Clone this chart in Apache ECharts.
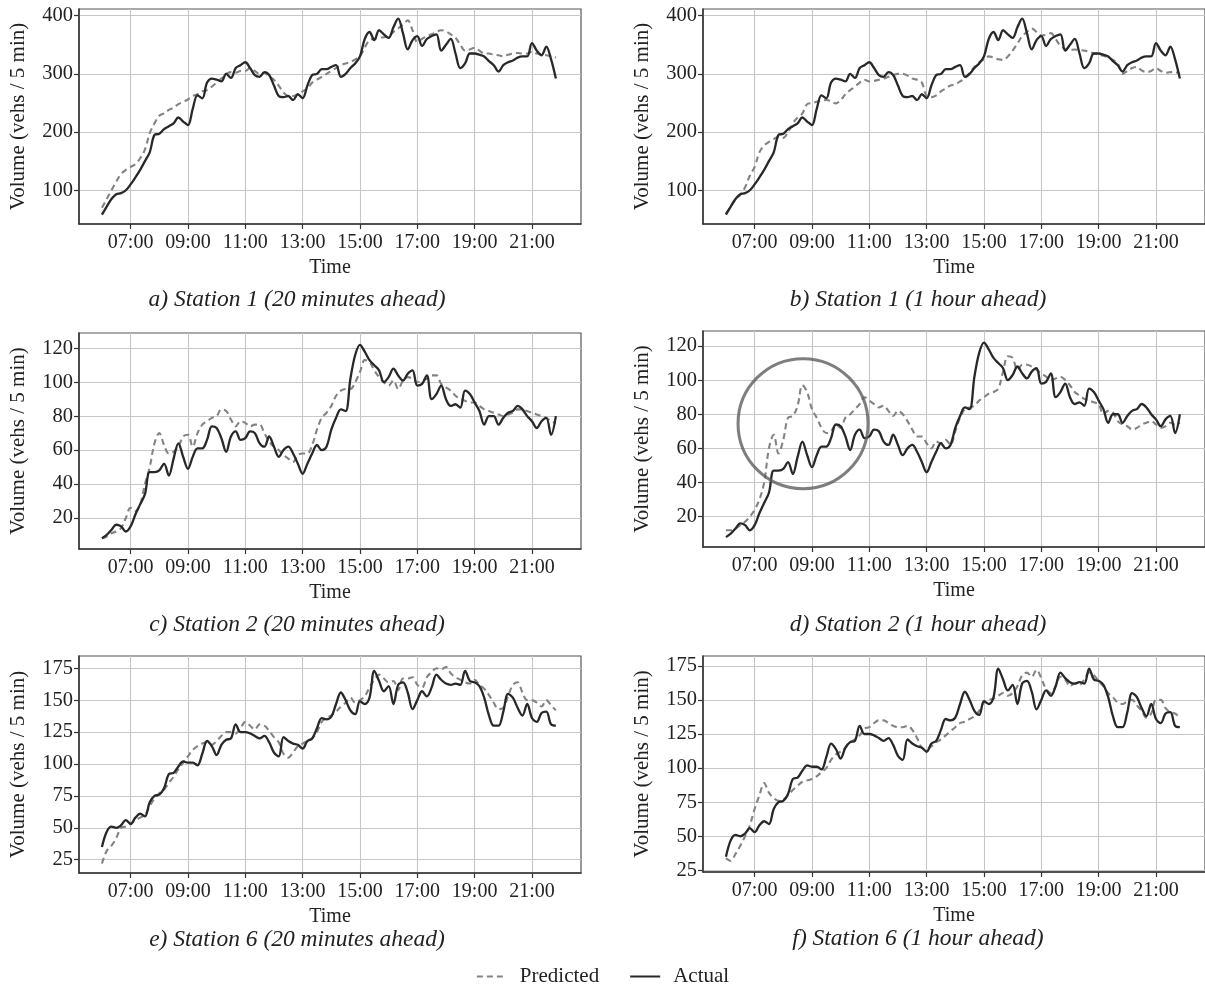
<!DOCTYPE html>
<html>
<head>
<meta charset="utf-8">
<script src="https://cdn.jsdelivr.net/npm/echarts@6/dist/echarts.min.js"></script>
<style>
html,body{margin:0;padding:0;background:#fff;}
#chart{width:1205px;height:985px;}
</style>
</head>
<body>
<div id="chart"></div>
<script>
// time of day in hours, one sample every 10 minutes from 06:00 to 21:50
const times = Array.from({length: 96}, (_, i) => 6 + i / 6);
const xTicks = [7, 9, 11, 13, 15, 17, 19, 21];

// Station 1
const actualS1 = [
  58, 72, 85, 93, 95, 100, 110, 122, 135, 150, 165, 195,
  197, 205, 210, 215, 225, 218, 212, 240, 263, 258, 285, 292,
  290, 287, 300, 293, 310, 315, 320, 310, 298, 295, 303, 298,
  280, 262, 260, 262, 255, 265, 258, 280, 298, 300, 308, 308,
  312, 315, 295, 300, 310, 318, 330, 360, 372, 358, 375, 368,
  362, 380, 395, 370, 342, 358, 365, 348, 360, 365, 368, 340,
  350, 360, 335, 310, 318, 335, 335, 333, 330, 322, 315, 304,
  315, 320, 323, 328, 330, 330, 353, 340, 332, 347, 325, 292
];
const predS1_20min = [
  70, 85, 100, 115, 128, 135, 140, 145, 155, 170, 198, 215,
  228, 232, 238, 242, 248, 252, 256, 262, 265, 270, 272, 278,
  285, 292, 300, 303, 302, 305, 305, 310, 305, 300, 302, 295,
  290, 280, 268, 262, 262, 265, 270, 275, 285, 290, 295, 300,
  305, 310, 315, 318, 320, 325, 330, 345, 358, 360, 362, 363,
  365, 372, 378, 385, 392, 375, 355, 360, 365, 368, 372, 375,
  373, 368, 362, 350, 340, 342, 345, 340, 335, 335, 333, 332,
  330, 333, 335, 336, 335, 335, 338, 335, 333, 332, 330, 328
];
const predS1_1h = [
  60, 72, 84, 92, 105, 125, 140, 165, 177, 183, 188, 192,
  190, 200, 215, 225, 232, 248, 250, 252, 254, 255, 253, 249,
  255, 265, 272, 278, 285, 290, 287, 288, 290, 292, 295, 298,
  300, 300, 297, 292, 290, 285, 262, 260, 263, 270, 275, 280,
  282, 287, 292, 302, 312, 320, 325, 330, 328, 325, 324, 330,
  340, 352, 365, 372, 378, 372, 366, 367, 370, 360, 348, 343,
  341, 342, 341, 340, 338, 335, 333, 331, 328, 324, 318, 300,
  305, 310, 312, 306, 303, 305, 310, 305, 302, 303, 303, 300
];

// Station 2
const actualS2 = [
  8, 10, 13, 16, 15, 12, 15, 22, 28, 34, 47, 47,
  48, 52, 45, 55, 64, 56, 49, 56, 61, 61, 66, 74,
  73, 67, 59, 68, 71, 66, 67, 71, 70, 64, 62, 68,
  62, 56, 60, 62, 58, 52, 46, 52, 58, 63, 60, 62,
  72, 79, 84, 83, 102, 116, 122, 118, 113, 110, 107, 100,
  103, 108, 104, 101, 105, 107, 98, 99, 104, 90, 93, 98,
  90, 86, 87, 85, 95, 93, 88, 83, 75, 80, 80, 75,
  79, 82, 83, 86, 84, 80, 77, 73, 77, 79, 69, 80
];
const predS2_20min = [
  8, 9, 11, 12, 14, 20, 26, 24, 28, 40, 50, 64,
  70, 63, 58, 59, 62, 68, 69, 62, 70, 75, 77, 79,
  80, 84, 83, 78, 74, 77, 76, 74, 75, 75, 70, 65,
  62, 60, 57, 55, 53, 57, 58, 58, 63, 72, 79, 82,
  86, 92, 95, 96, 96, 100, 106, 113, 112, 107, 103, 100,
  98, 101, 96, 101, 103, 102, 100, 101, 102, 104, 104, 99,
  97, 95, 92, 90, 89, 88, 88, 86, 84, 83, 82, 81,
  80, 81, 82, 84, 84, 83, 82, 81, 80, 79, 77, 76
];
const predS2_1h = [
  12, 12, 13, 15, 17, 20, 24, 30, 40, 60, 68, 57,
  65, 78, 79, 85, 97, 93, 83, 78, 72, 69, 70, 74,
  72, 78, 80, 83, 86, 90, 88, 86, 84, 85, 82, 79,
  82, 80, 76, 71, 67, 67, 63, 60, 64, 63, 65, 62,
  70, 78, 83, 84, 85, 88, 90, 92, 93, 95, 105, 114,
  113, 106, 109, 109, 108, 106, 104, 102, 100, 101, 102, 100,
  97, 93, 91, 89, 88, 87, 86, 80, 82, 81, 76, 74,
  73, 71, 72, 74, 75, 76, 74, 72, 73, 75, 74, 75
];
// highlighted region in panel d (time in hours, volume)
const highlightPoint = [8.69, 74.5];

// Station 6
const actualS6 = [
  35, 47, 51, 50, 52, 56, 53, 58, 61, 59, 70, 75,
  76, 81, 92, 93, 98, 102, 101, 101, 99, 108, 118, 114,
  107, 115, 119, 120, 131, 125, 125, 124, 122, 120, 122, 117,
  109, 106, 121, 118, 116, 115, 112, 118, 120, 128, 136, 135,
  137, 147, 156, 150, 142, 139, 149, 147, 152, 173, 165, 157,
  161, 147, 162, 164, 156, 143, 150, 157, 153, 160, 170, 166,
  163, 162, 163, 162, 173, 165, 164, 161, 152, 138, 130, 130,
  141, 155, 152, 144, 138, 147, 136, 133, 140, 141, 131, 130
];
const predS6_20min = [
  22, 32, 36, 42, 50, 51, 53, 56, 58, 60, 67, 73,
  77, 80, 85, 90, 96, 101, 106, 111, 114, 116, 117, 115,
  118, 122, 125, 125, 124, 128, 133, 130, 127, 131, 130, 126,
  121, 117, 108, 105, 109, 114, 116, 118, 120, 125, 133, 136,
  138, 141, 145, 148, 152, 148, 150, 153, 160, 166, 170, 167,
  164, 165, 158, 167, 167, 168, 162, 160, 168, 172, 175, 174,
  176, 171, 168, 166, 164, 163, 166, 162, 159, 154, 148, 143,
  144, 153, 162, 164, 156, 150, 150, 148, 145, 150, 146, 142
];
const predS6_1h = [
  34, 32, 37, 43, 50, 58, 70, 80, 89, 82, 78, 76,
  77, 80, 84, 87, 90, 91, 92, 94, 97, 100, 106, 110,
  112, 115, 119, 121, 124, 129, 130, 133, 135, 135, 133, 131,
  130, 130, 131, 128, 122, 115, 114, 116, 119, 121, 124, 127,
  130, 133, 134, 136, 138, 142, 148, 150, 151, 153, 155, 153,
  155, 160, 168, 170, 167, 172, 166, 158, 155, 160, 167, 165,
  160, 162, 161, 165, 170, 168, 164, 160, 155, 152, 148, 147,
  149, 150, 146, 142, 137, 140, 150, 150, 144, 141, 140, 137
];

const yTicksS1 = [100, 200, 300, 400];
const yTicksS2 = [20, 40, 60, 80, 100, 120];
const yTicksS6 = [25, 50, 75, 100, 125, 150, 175];

const captions = [
  'a) Station 1 (20 minutes ahead)', 'b) Station 1 (1 hour ahead)',
  'c) Station 2 (20 minutes ahead)', 'd) Station 2 (1 hour ahead)',
  'e) Station 6 (20 minutes ahead)', 'f) Station 6 (1 hour ahead)'
];

const FONT = '"Liberation Serif","Times New Roman",Times,serif';
const TXT = '#222';

const panels = [
  {grid:{left:79, top:9, width:502, height:215}, y:[42, 411.5], ticks:yTicksS1, actual:actualS1, pred:predS1_20min, cx:297, cy:300},
  {grid:{left:703, top:9, width:504, height:215}, y:[42, 411.5], ticks:yTicksS1, actual:actualS1, pred:predS1_1h, cx:918, cy:300},
  {grid:{left:79, top:333, width:502, height:216}, y:[1.7, 129], ticks:yTicksS2, actual:actualS2, pred:predS2_20min, cx:297, cy:625},
  {grid:{left:703, top:331, width:504, height:216}, y:[2.2, 128.8], ticks:yTicksS2, actual:actualS2, pred:predS2_1h, cx:918, cy:625},
  {grid:{left:79, top:656, width:502, height:217}, y:[14.6, 184.6], ticks:yTicksS6, actual:actualS6, pred:predS6_20min, cx:297, cy:940},
  {grid:{left:703, top:656, width:504, height:216}, y:[23.8, 182.2], ticks:yTicksS6, actual:actualS6, pred:predS6_1h, cx:918, cy:939}
];

const grids = [], xAxes = [], yAxes = [], series = [], graphics = [];
const fmtTime = v => (v < 10 ? '0' : '') + v + ':00';

panels.forEach((p, i) => {
  grids.push(Object.assign({show:true, borderColor:'#555', borderWidth:1.2, backgroundColor:'#fff', containLabel:false}, p.grid));
  xAxes.push({
    type:'value', gridIndex:i, min:5.2, max:22.71,
    axisLine:{show:true, onZero:false, lineStyle:{color:'#333', width:1.5}},
    axisTick:{show:true, length:5, customValues:xTicks, lineStyle:{color:'#333', width:1.2}},
    axisLabel:{customValues:xTicks, formatter:fmtTime, fontFamily:FONT, fontSize:20, color:TXT, margin:9},
    splitLine:{show:true, lineStyle:{color:'#c6c6c6', width:1.1}},
    name:'Time', nameLocation:'middle', nameGap:34,
    nameTextStyle:{fontFamily:FONT, fontSize:20, color:TXT}
  });
  yAxes.push({
    type:'value', gridIndex:i, min:p.y[0], max:p.y[1],
    axisLine:{show:true, onZero:false, lineStyle:{color:'#333', width:1.5}},
    axisTick:{show:true, length:5, customValues:p.ticks, lineStyle:{color:'#333', width:1.2}},
    axisLabel:{customValues:p.ticks, fontFamily:FONT, fontSize:20.5, color:TXT, margin:6},
    splitLine:{show:true, lineStyle:{color:'#c6c6c6', width:1.1}},
    name:'Volume (vehs / 5 min)', nameLocation:'middle', nameGap:50,
    nameTextStyle:{fontFamily:FONT, fontSize:21, color:TXT}
  });
  series.push({
    type:'line', name:'Predicted', xAxisIndex:i, yAxisIndex:i,
    data: times.map((t, j) => [t, p.pred[j]]),
    symbol:'none', smooth:0.35, z:2,
    lineStyle:{color:'#838383', width:2.1, type:[6, 4]},
    itemStyle:{color:'#838383'}
  });
  series.push({
    type:'line', name:'Actual', xAxisIndex:i, yAxisIndex:i,
    data: times.map((t, j) => [t, p.actual[j]]),
    symbol:'none', smooth:0.35, z:3,
    lineStyle:{color:'#282828', width:2.3},
    itemStyle:{color:'#282828'}
  });
  graphics.push({
    type:'text', x:p.cx, y:p.cy,
    style:{text:captions[i], textAlign:'center', textVerticalAlign:'middle',
      font:'italic 23.5px ' + FONT, fill:TXT}
  });
});

series.push({
  type:'scatter', xAxisIndex:3, yAxisIndex:3, silent:true, z:4,
  data:[highlightPoint], symbol:'circle', symbolSize:130,
  itemStyle:{color:'rgba(0,0,0,0)', borderColor:'#5e5e5e', borderWidth:3}
});

const chart = echarts.init(document.getElementById('chart'), null, {renderer:'canvas'});
chart.setOption({
  animation:false,
  backgroundColor:'#fff',
  grid:grids, xAxis:xAxes, yAxis:yAxes, series:series,
  graphic:graphics,
  legend:{
    data:['Predicted', 'Actual'], left:'center', top:961,
    itemWidth:30, itemHeight:14, itemGap:30,
    itemStyle:{color:'rgba(0,0,0,0)', borderColor:'rgba(0,0,0,0)', borderWidth:0, opacity:0},
    textStyle:{fontFamily:FONT, fontSize:21, color:TXT, padding:[0, 0, 0, 8]}
  }
});
</script>
</body>
</html>
